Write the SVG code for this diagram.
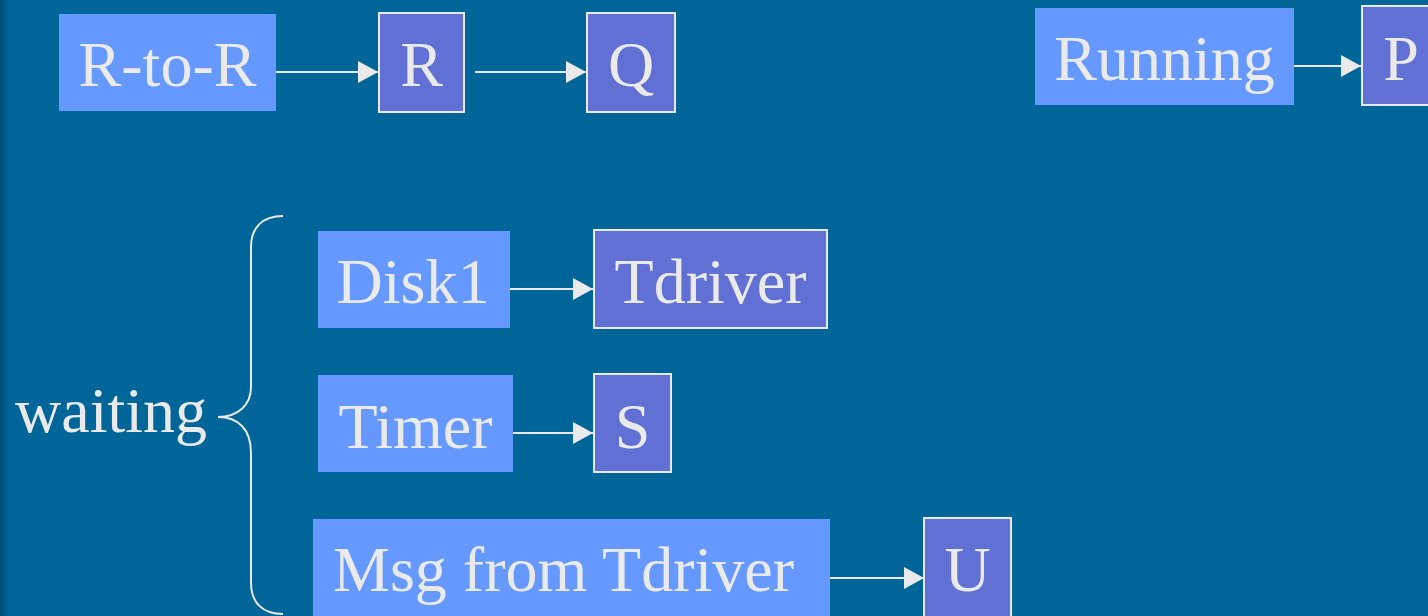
<svg xmlns="http://www.w3.org/2000/svg" width="1428" height="616" viewBox="0 0 1428 616">
<style>
.lt{fill:#6699FF}
.dk{fill:#6070D4;stroke:#E8E8E8;stroke-width:2}
.t{font-family:"Liberation Serif","Times New Roman",serif;font-size:64px;fill:#EAEAEA;text-anchor:middle}
.c{stroke:#EAEAEA;stroke-width:2;fill:none}
</style>
<defs>
<linearGradient id="bg" x1="0" y1="0" x2="1" y2="0">
<stop offset="0" stop-color="#004E78"/>
<stop offset="1" stop-color="#006699"/>
</linearGradient>
<marker id="ah" markerUnits="userSpaceOnUse" markerWidth="20" markerHeight="22" refX="20" refY="11" orient="auto">
<path d="M0,0 L20,11 L0,22 z" fill="#EAEAEA"/>
</marker>
</defs>
<rect width="1428" height="616" fill="#006699"/>
<rect width="10" height="616" fill="url(#bg)"/>

<g id="connectors">
<line class="c" x1="276" y1="72" x2="378" y2="72" marker-end="url(#ah)"/>
<line class="c" x1="475" y1="72" x2="586" y2="72" marker-end="url(#ah)"/>
<line class="c" x1="1294" y1="66" x2="1361" y2="66" marker-end="url(#ah)"/>
<line class="c" x1="510" y1="289" x2="593" y2="289" marker-end="url(#ah)"/>
<line class="c" x1="513" y1="433" x2="593" y2="433" marker-end="url(#ah)"/>
<line class="c" x1="830" y1="578" x2="924" y2="578" marker-end="url(#ah)"/>
</g>

<g id="brace">
<path class="c" d="M283,216 C262,216 251,228 251,247 L251,387 C251,405 238,417 218,417 C238,417 251,429 251,453 L251,583 C251,602 262,614 283,614"/>
<text class="t" x="15" y="432" style="text-anchor:start">waiting</text>
</g>

<g id="rtor"><rect class="lt" x="59" y="14" width="217" height="97"/><text class="t" x="167.5" y="86">R-to-R</text></g>
<g id="R"><rect class="dk" x="379" y="13" width="85" height="99"/><text class="t" x="421.5" y="86">R</text></g>
<g id="Q"><rect class="dk" x="587" y="13" width="88" height="99"/><text class="t" x="631" y="86">Q</text></g>
<g id="running"><rect class="lt" x="1035" y="8" width="259" height="97"/><text class="t" x="1164.5" y="80">Running</text></g>
<g id="P"><rect class="dk" x="1362" y="6" width="80" height="99"/><text class="t" x="1401" y="80">P</text></g>
<g id="disk1"><rect class="lt" x="318" y="231" width="192" height="97"/><text class="t" x="413" y="303">Disk1</text></g>
<g id="tdriver"><rect class="dk" x="594" y="230" width="233" height="98"/><text class="t" x="710.5" y="303">Tdriver</text></g>
<g id="timer"><rect class="lt" x="318" y="375" width="195" height="97"/><text class="t" x="415.5" y="448">Timer</text></g>
<g id="S"><rect class="dk" x="594" y="374" width="77" height="98"/><text class="t" x="632.5" y="448">S</text></g>
<g id="msg"><rect class="lt" x="313" y="519" width="517" height="100"/><text class="t" x="333" y="591" style="text-anchor:start">Msg from Tdriver</text></g>
<g id="U"><rect class="dk" x="924" y="518" width="87" height="102"/><text class="t" x="967.5" y="591">U</text></g>
</svg>
